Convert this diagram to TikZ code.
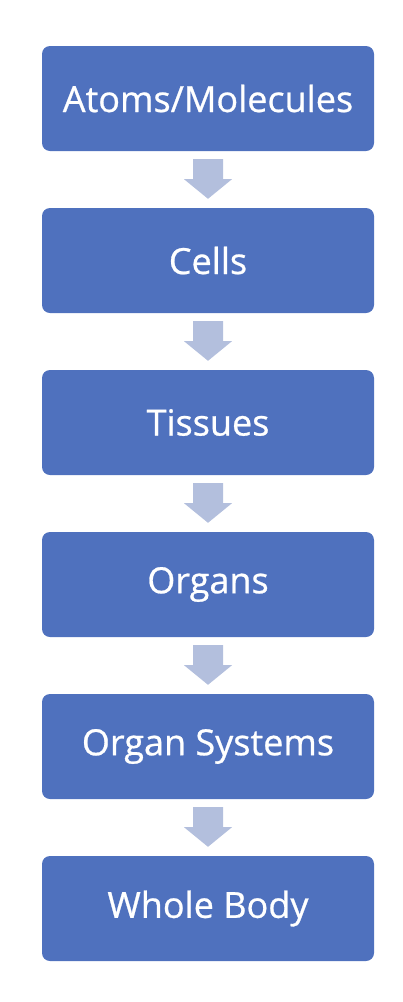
\documentclass[tikz,border=0pt]{standalone}
\usepackage{fontspec}
\setmainfont{Open Sans}
\newfontfamily\boxfont{Open Sans}[FakeBold=0.7]
\usetikzlibrary{calc}
\definecolor{boxblue}{HTML}{4F71BE}
\definecolor{arrowblue}{HTML}{B3BFDD}
\tikzset{
  levelbox/.style={fill=boxblue, draw=none, rounded corners=8pt, minimum width=332pt, minimum height=105pt, inner sep=0pt, text=white, font=\boxfont\fontsize{36}{40}\selectfont},
  blockarrow/.style={fill=arrowblue, draw=none}
}
\newcommand{\downarrowblock}[2]{%
  \fill[blockarrow] ($(#1.south)+(-15pt,-8pt)$) -- ($(#1.south)+(15pt,-8pt)$) -- ($(#1.south)+(15pt,-28pt)$) -- ($(#1.south)+(24pt,-28pt)$) -- ($(#2.north)+(0pt,9pt)$) -- ($(#1.south)+(-24pt,-28pt)$) -- ($(#1.south)+(-15pt,-28pt)$) -- cycle;}
\begin{document}
\begin{tikzpicture}[x=1pt,y=-1pt]
\useasboundingbox (0,0) rectangle (402,1002);
\node[levelbox] (b1) at (208,98.5) {Atoms/Molecules};
\node[levelbox] (b2) at (208,260.5) {Cells};
\node[levelbox] (b3) at (208,422.5) {Tissues};
\node[levelbox] (b4) at (208,584.5) {Organs};
\node[levelbox] (b5) at (208,746.5) {Organ Systems};
\node[levelbox] (b6) at (208,908.5) {Whole Body};
\downarrowblock{b1}{b2}
\downarrowblock{b2}{b3}
\downarrowblock{b3}{b4}
\downarrowblock{b4}{b5}
\downarrowblock{b5}{b6}
\end{tikzpicture}
\end{document}
